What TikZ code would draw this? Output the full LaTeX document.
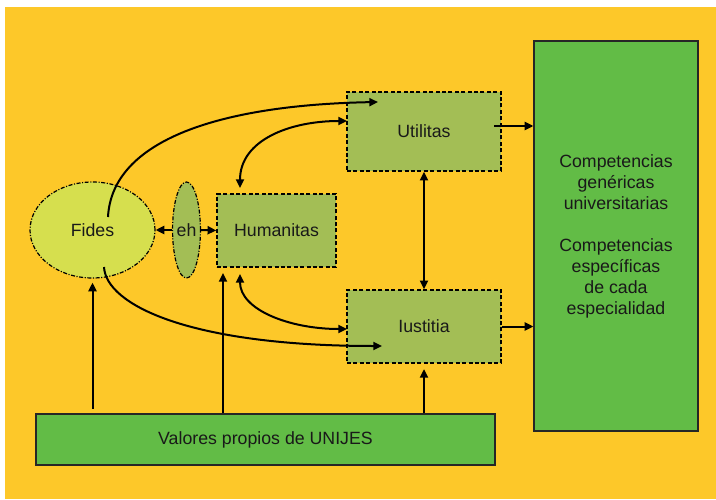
\documentclass[tikz,border=0pt]{standalone}
\usepackage{fontspec}
\setmainfont{Liberation Sans}
\usetikzlibrary{arrows.meta,shapes.geometric}

\definecolor{bgYellow}{RGB}{253,200,41}
\definecolor{valGreen}{RGB}{98,188,70}
\definecolor{boxOlive}{RGB}{163,190,85}
\definecolor{fidesLime}{RGB}{214,223,78}

\tikzset{every picture/.style={line width=0.75pt}}
\tikzset{
	txt/.style={font=\fontsize{13.3}{15.75}\selectfont, text=black!90},
	dashbox/.style={txt, draw, fill=boxOlive, line width=1.1pt, dash pattern={on 3pt off 1.8pt}, inner sep=0pt},
	dotoval/.style={txt, ellipse, draw, line width=0.9pt, dash pattern={on 3pt off 1.2pt on 0.8pt off 1.2pt}, inner sep=0pt},
	greenbox/.style={txt, draw=black!85, fill=valGreen, line width=0.9pt, inner sep=0pt, align=center},
	arr/.style={line width=1.5pt, -{Triangle[length=6.5pt,width=6pt]}},
	darr/.style={line width=1.5pt, {Triangle[length=6.5pt,width=6pt]}-{Triangle[length=6.5pt,width=6pt]}}
}

\begin{document}
\begin{tikzpicture}[x=0.75pt,y=0.75pt,yscale=-1,xscale=1]
	\useasboundingbox (0,0) rectangle (716,499);
	%Background
	\fill [bgYellow] (5,7) rectangle (716,499);

	%Shape: Ellipse [id:fides]
	\node [dotoval, fill=fidesLime, minimum width=93.75pt, minimum height=72pt] (fides) at (92.5,230) {Fides};
	%Shape: Ellipse [id:eh]
	\node [dotoval, fill=boxOlive, minimum width=20.25pt, minimum height=72pt] (eh) at (186.5,230) {eh};
	%Shape: Rectangle [id:humanitas]
	\node [dashbox, minimum width=89.25pt, minimum height=54.75pt] (humanitas) at (276.5,230.5) {Humanitas};
	%Shape: Rectangle [id:utilitas]
	\node [dashbox, minimum width=115.5pt, minimum height=59.25pt] (utilitas) at (424,131.5) {Utilitas};
	%Shape: Rectangle [id:iustitia]
	\node [dashbox, minimum width=115.5pt, minimum height=54.75pt] (iustitia) at (424,326.5) {Iustitia};
	%Shape: Rectangle [id:compet]
	\node [greenbox, minimum width=123pt, minimum height=292.5pt] (compet) at (616,236) {Competencias\\genéricas\\universitarias\\[15.75pt]Competencias\\específicas\\de cada\\especialidad};
	%Shape: Rectangle [id:valores]
	\node [greenbox, minimum width=344.25pt, minimum height=38.25pt] (valores) at (265.5,439.5) {Valores propios de UNIJES};

	% free ends of the curves
	\coordinate (fidesUp) at (108,217);
	\coordinate (fidesDown) at (104,267);
	\coordinate (utilIn) at (378,102);
	\coordinate (iustIn) at (382,346);
	\coordinate (humTop) at (240,188);
	\coordinate (humBot) at (240,274);
	\coordinate (utilLeft) at (347,121);
	\coordinate (iustLeft) at (347,329);
	\coordinate (utilOut) at (494,126);
	\coordinate (humVal) at (223,273);

	%Curve Lines
	\draw [arr] (fidesUp) .. controls (112,140) and (220,105) .. (utilIn) ;
	%Curve Lines
	\draw [darr] (utilLeft) .. controls (290,121) and (240,140) .. (humTop) ;
	%Curve Lines
	\draw [arr] (fidesDown) .. controls (106,305) and (190,346) .. (iustIn) ;
	%Curve Lines
	\draw [darr] (humBot) .. controls (240,310) and (290,329) .. (iustLeft) ;

	%Straight Lines
	\draw [arr] (eh.west) -- (fides.east) ;
	\draw [arr] (eh.east) -- (humanitas.west) ;
	\draw [darr] (utilitas) -- (iustitia) ;
	\draw [arr] (utilOut) -- (utilOut -| compet.west) ;
	\draw [arr] (iustitia.east) -- (iustitia.east -| compet.west) ;
	%Straight Lines
	\draw [arr, shorten <=3.5pt, shorten >=3pt] (fides.south |- valores.north) -- (fides.south) ;
	\draw [arr] (humVal |- valores.north) -- (humVal) ;
	\draw [arr, shorten >=4pt] (iustitia.south |- valores.north) -- (iustitia.south) ;

\end{tikzpicture}
\end{document}
